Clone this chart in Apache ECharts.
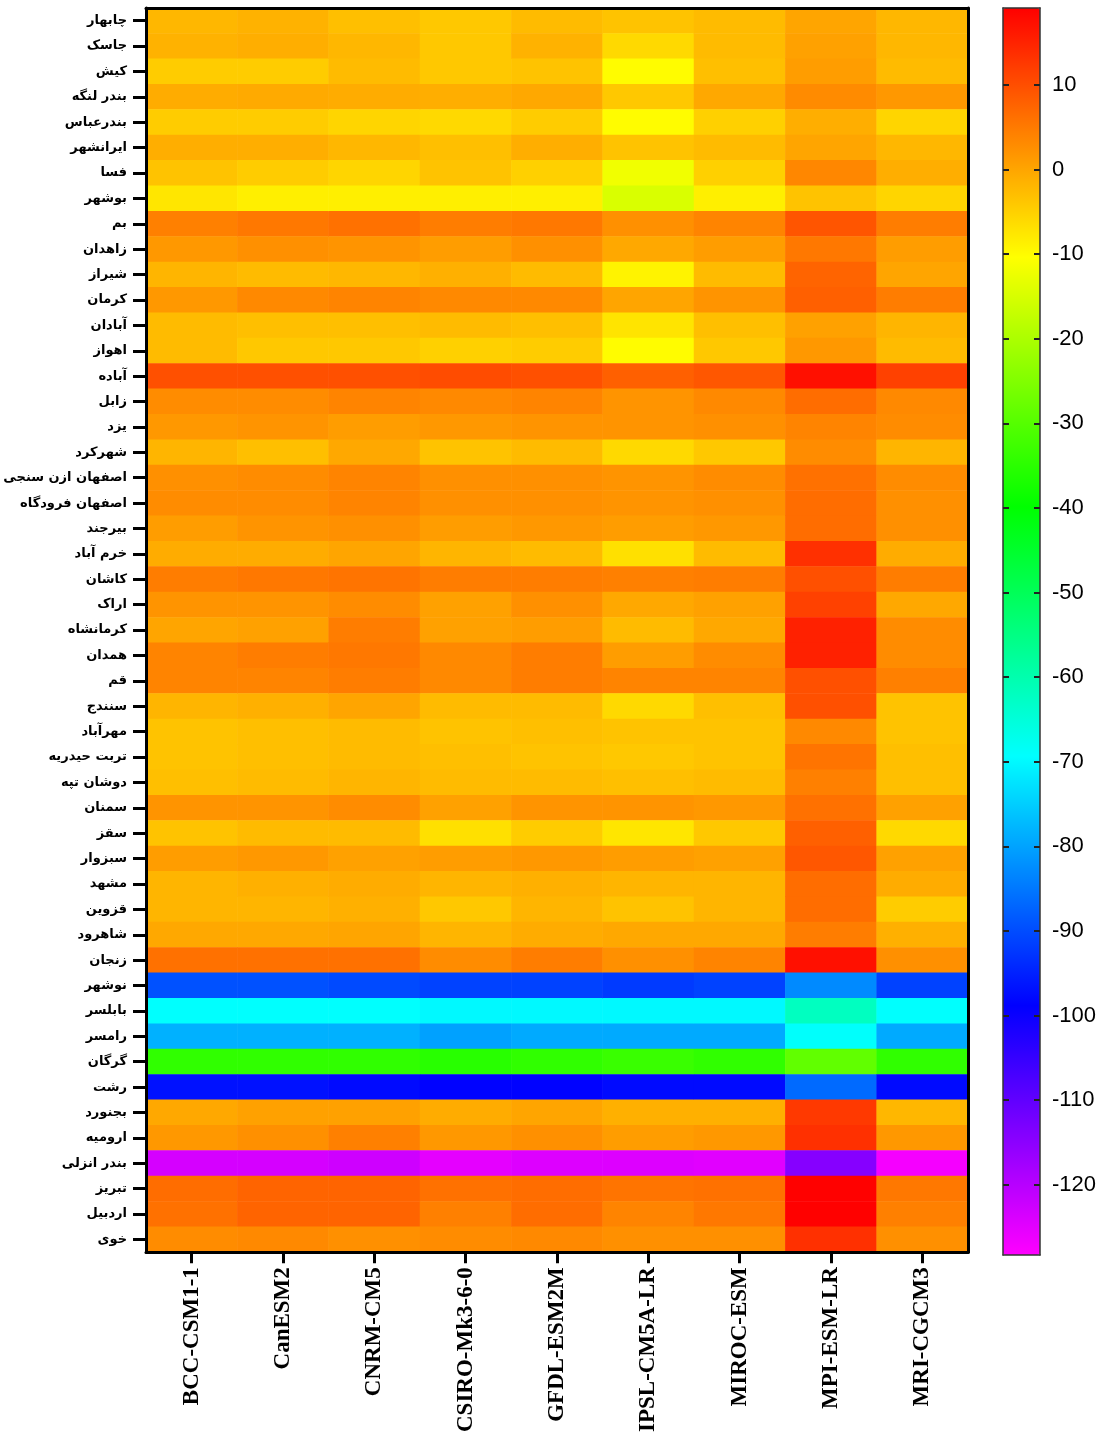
<!DOCTYPE html>
<html>
<head>
<meta charset="utf-8">
<script src="https://cdn.jsdelivr.net/npm/echarts@6/dist/echarts.min.js"></script>
<style>
  html, body { margin: 0; padding: 0; background: #fff; }
  #chart { width: 1104px; height: 1435px; }
</style>
</head>
<body>
<div id="chart"></div>
<script>
// stations, top to bottom
var cities = ['چابهار', 'جاسک', 'کیش', 'بندر لنگه', 'بندرعباس', 'ایرانشهر', 'فسا', 'بوشهر', 'بم', 'زاهدان',
  'شیراز', 'کرمان', 'آبادان', 'اهواز', 'آباده', 'زابل', 'یزد', 'شهرکرد', 'اصفهان ازن سنجی', 'اصفهان فرودگاه',
  'بیرجند', 'خرم آباد', 'کاشان', 'اراک', 'کرمانشاه', 'همدان', 'قم', 'سنندج', 'مهرآباد', 'تربت حیدریه',
  'دوشان تپه', 'سمنان', 'سقز', 'سبزوار', 'مشهد', 'قزوین', 'شاهرود', 'زنجان', 'نوشهر', 'بابلسر',
  'رامسر', 'گرگان', 'رشت', 'بجنورد', 'ارومیه', 'بندر انزلی', 'تبریز', 'اردبیل', 'خوی'];

var models = ['BCC-CSM1-1', 'CanESM2', 'CNRM-CM5', 'CSIRO-Mk3-6-0', 'GFDL-ESM2M', 'IPSL-CM5A-LR', 'MIROC-ESM', 'MPI-ESM-LR', 'MRI-CGCM3'];

// one list per model, same order as cities
var bcc = [-2, -1.5, -4.5, -0.8, -4.5, -1, -3.5, -7.5, 4.3, 1.5,
  -1.8, 1.5, -2.5, -2.5, 9.8, 2.9, 1.5, -1.8, 2.4, 2.9,
  1, -0.8, 4.7, 2, 0, 3.8, 3.8, -1.8, -3.5, -3.5,
  -3, 2, -3.5, 1, -1.8, -1.8, -0.3, 6, -89.4, -69.2,
  -78.3, -34.3, -96.8, -0.3, 1.5, -123.5, 6.5, 6, 2.9];
var canesm2 = [-1.5, -1, -4.5, -0.5, -4.5, -1, -4.5, -8.5, 5.2, 2.4,
  -2.5, 3.3, -3, -4, 9.8, 2.9, 2, -3, 2.9, 2.9,
  2, -0.8, 5.2, 2, 0.5, 4.7, 3.8, -1.2, -3, -3,
  -2.5, 2, -2.5, 1.5, -1.2, -1.8, -0.3, 6, -89.4, -69.2,
  -78.3, -34.3, -96.8, 0.5, 2.4, -123.5, 7.5, 7.5, 3.3];
var cnrm = [-3, -2, -2.5, -0.8, -5.5, -2, -5.5, -8.5, 6, 2,
  -2, 3.8, -3, -4, 9.8, 3.8, 1, -0.3, 3.8, 3.8,
  2.4, 0, 5.7, 2.9, 4.7, 5.2, 4.7, 0, -2.5, -2.5,
  -1.8, 2.9, -2.5, 0.5, -0.8, -1.2, 0, 6, -90.3, -69.2,
  -78.3, -34.3, -97.7, 0.5, 4.3, -122.6, 7.5, 7.5, 2.4];
var csiro = [-4, -4, -4, -1, -6, -3, -3.5, -8.5, 4.7, 1,
  -1.2, 3.3, -2.5, -5, 10.3, 3.3, 1.5, -3.5, 2.4, 2.4,
  1, -1.8, 4.7, 0.5, 0.5, 3.3, 3.3, -2.5, -3.5, -3,
  -2.5, 0.5, -6.8, 1, -1.8, -4, -1.8, 2.9, -91.2, -70,
  -80.2, -35.2, -98.6, -0.8, 1.5, -125.3, 6, 4.3, 2.9];
var gfdl = [-2.5, -1.5, -3.5, -0.3, -4.5, -1, -5, -8.5, 5.2, 2.4,
  -2.5, 3.3, -3, -4.5, 9.8, 3.8, 2, -2.5, 2.4, 2.4,
  1.5, -2.5, 4.7, 2.4, 1, 4.7, 4.7, -2.5, -3, -3.5,
  -2.5, 2, -4.5, 1.5, -1.2, -1.8, -0.8, 4.7, -91.2, -70,
  -79.2, -34.3, -98.6, 0, 2.4, -124.4, 6.5, 6.5, 3.3];
var ipsl = [-3.5, -6, -10, -4, -10, -3.5, -12, -14.8, 2.4, -0.3,
  -9, 0, -7.3, -10, 8, 2, 2, -6, 2, 2,
  1, -6.8, 4.3, -0.3, -2.5, 1, 3.8, -6, -3.5, -4,
  -3, 2, -7.5, 1, -1.8, -3.5, -0.3, 2.4, -92.1, -70,
  -79.2, -33.3, -97.7, -1.2, 1, -124.4, 5.7, 3.8, 2.4];
var miroc = [-2.5, -2.5, -3, -0.3, -5, -2.5, -5, -8.5, 3.8, 1,
  -2.5, 2, -3, -4, 9, 3.3, 2.4, -4, 2.9, 2.4,
  1.5, -2.5, 4.7, 0.5, -0.3, 2.9, 3.8, -3, -3.5, -3.5,
  -2.5, 1.5, -4, 0.5, -1.8, -1.8, -0.3, 3.8, -91.2, -70,
  -79.2, -34.3, -97.7, -1.2, 1.5, -124.8, 6, 5.2, 2.4];
var mpi = [0, 0.5, 1, 3, -1, 0, 3.5, -3.5, 9.3, 5.2,
  7.5, 8, 0.5, 1.5, 17.2, 6.5, 3.8, 2.9, 6, 6.5,
  6.5, 13.5, 9.8, 11.6, 15.3, 15.3, 9.8, 9.8, 3.3, 5.7,
  4.3, 6, 8, 9, 6.5, 6.5, 4.7, 17.2, -82.9, -62,
  -69, -28.7, -86.6, 12.5, 13.5, -114.3, 19, 19, 13.5];
var mri = [-2, -2, -2.5, 1.5, -5.5, -2, -1, -5.5, 4.7, 1,
  0, 4.7, -1.8, -2.5, 11.6, 3.3, 2.9, -1.8, 2.9, 2.4,
  2.4, -0.8, 4.7, -0.3, 2.9, 2.9, 4.3, -3.5, -3.5, -3,
  -3, 0.5, -6, 0.5, -0.8, -4.5, -1.2, 2.4, -91.2, -69.2,
  -79.2, -34.3, -97.7, -2, 1.5, -127.2, 5.2, 4.3, 2.4];

var colorTicks = [10, 0, -10, -20, -30, -40, -50, -60, -70, -80, -90, -100, -110, -120];
var scaleMin = -128.3, scaleMax = 19.1;

var columns = [bcc, canesm2, cnrm, csiro, gfdl, ipsl, miroc, mpi, mri];
var cells = [];
for (var i = 0; i < columns.length; i++) {
  for (var j = 0; j < cities.length; j++) {
    cells.push([i, j, columns[i][j]]);
  }
}

var chart = echarts.init(document.getElementById('chart'));
var blackLine = { show: true, lineStyle: { color: '#000', width: 3 } };
// colour bar frame, kept at the edges (not on zero)
var barLine = { show: true, onZero: false, lineStyle: { color: '#333', width: 1.5 } };
// negative length so the marks point into the bar
var barTick = { show: true, length: -6, customValues: colorTicks, lineStyle: { color: '#222', width: 2 } };

chart.setOption({
  animation: false,
  backgroundColor: '#fff',
  grid: [
    { left: 146, top: 8, width: 822, height: 1247 },
    { left: 1003, top: 8, width: 37, height: 1247 }
  ],
  xAxis: [
    {
      type: 'category', data: models, gridIndex: 0, position: 'bottom', z: 10,
      axisLine: blackLine,
      axisTick: { show: true, alignWithLabel: true, length: 11, lineStyle: { color: '#000', width: 3 } },
      axisLabel: {
        show: true, rotate: 90, margin: 15, color: '#000',
        fontFamily: 'Liberation Serif', fontWeight: 'bold', fontSize: 23
      },
      splitLine: { show: false }
    },
    {
      type: 'category', data: models, gridIndex: 0, position: 'top', z: 10,
      axisLine: blackLine, axisTick: { show: false }, axisLabel: { show: false }
    },
    {
      type: 'value', gridIndex: 1, min: 0, max: 1, position: 'bottom', zlevel: 1,
      axisLine: barLine, axisTick: { show: false }, axisLabel: { show: false }, splitLine: { show: false }
    },
    {
      type: 'value', gridIndex: 1, min: 0, max: 1, position: 'top', zlevel: 1,
      axisLine: barLine, axisTick: { show: false }, axisLabel: { show: false }, splitLine: { show: false }
    }
  ],
  yAxis: [
    {
      type: 'category', data: cities, gridIndex: 0, inverse: true, position: 'left', z: 10,
      axisLine: blackLine,
      axisTick: { show: true, alignWithLabel: true, length: 13, lineStyle: { color: '#000', width: 3 } },
      axisLabel: {
        show: true, margin: 19, color: '#000', interval: 0,
        fontFamily: 'DejaVu Sans', fontWeight: 'bold', fontSize: 13
      },
      splitLine: { show: false }
    },
    {
      type: 'category', data: cities, gridIndex: 0, inverse: true, position: 'right', z: 10,
      axisLine: blackLine, axisTick: { show: false }, axisLabel: { show: false }
    },
    {
      type: 'value', gridIndex: 1, min: scaleMin, max: scaleMax, position: 'right', zlevel: 1,
      axisLine: barLine,
      axisTick: barTick,
      axisLabel: {
        show: true, customValues: colorTicks, margin: 12, color: '#000',
        fontFamily: 'Liberation Sans', fontSize: 22
      },
      splitLine: { show: false }
    },
    {
      type: 'value', gridIndex: 1, min: scaleMin, max: scaleMax, position: 'left', zlevel: 1,
      axisLine: barLine,
      axisTick: barTick,
      axisLabel: { show: false },
      splitLine: { show: false }
    }
  ],
  visualMap: {
    type: 'continuous',
    seriesIndex: 0,
    dimension: 2,
    min: scaleMin,
    max: scaleMax,
    calculable: false,
    hoverLink: false,
    orient: 'vertical',
    left: 1003,
    top: 8,
    padding: 0,
    itemWidth: 37,
    itemHeight: 1247,
    text: null,
    inRange: { color: ['#ff00ff', '#0000ff', '#00ffff', '#00ff00', '#ffff00', '#ff0000'] }
  },
  series: [{
    type: 'heatmap',
    xAxisIndex: 0,
    yAxisIndex: 0,
    data: cells,
    itemStyle: { borderWidth: 0 }
  }]
});
</script>
</body>
</html>
